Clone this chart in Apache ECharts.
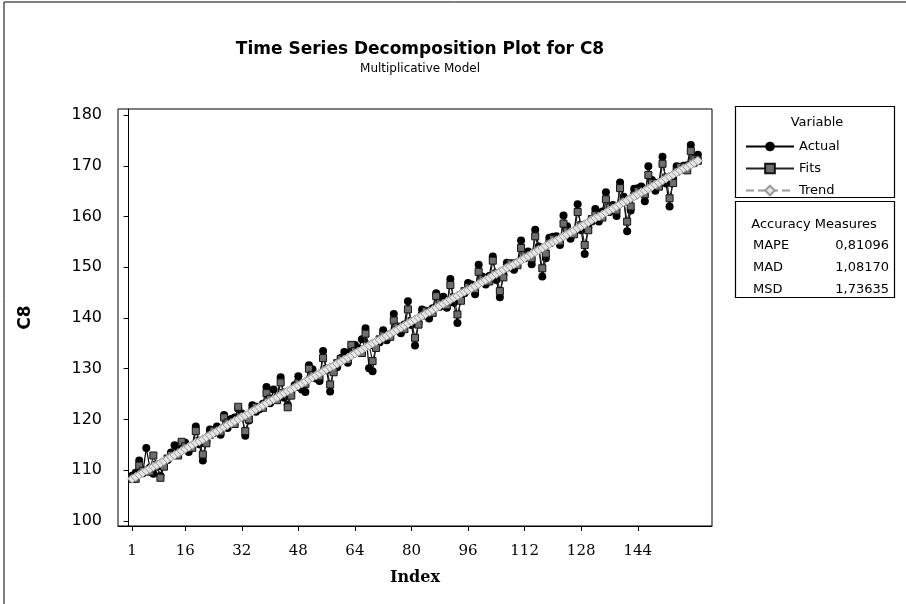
<!DOCTYPE html>
<html><head><meta charset="utf-8">
<script src="https://cdn.jsdelivr.net/npm/echarts/dist/echarts.min.js"></script>
<style>html,body{margin:0;padding:0;background:#fff}#c{width:906px;height:604px}</style>
</head><body><div id="c"></div>
<script>
const actual = [
108.9,109.5,111.9,109.4,114.4,110.5,109.3,110.7,108.9,111.6,112.0,113.5,
114.9,114.0,115.4,115.4,113.6,114.8,118.6,115.1,111.9,115.6,118.0,117.3,
118.6,117.0,120.9,118.3,120.1,120.4,122.1,121.2,116.8,119.8,122.8,121.5,
122.0,123.1,126.4,123.2,125.9,124.4,128.3,124.3,122.9,125.6,126.8,128.5,
125.9,125.4,130.7,129.9,128.1,127.6,133.5,129.7,125.5,130.1,130.3,132.1,
133.3,131.2,133.7,134.7,134.0,135.8,138.0,130.1,129.5,134.8,135.2,137.6,
135.6,136.8,140.8,137.6,137.0,138.7,143.3,138.6,134.6,139.0,141.7,141.0,
139.9,141.9,144.9,142.2,144.2,142.0,147.7,143.0,139.0,144.4,144.9,146.9,
146.6,144.7,150.5,148.2,146.6,148.3,152.1,147.5,144.1,148.6,150.9,150.1,
149.5,151.0,155.3,151.8,153.1,150.6,157.4,154.1,148.2,151.8,155.8,156.0,
156.1,154.4,160.2,158.1,155.6,157.0,162.4,157.3,152.6,157.9,159.0,161.5,
159.0,161.0,164.8,160.9,162.3,160.1,166.7,163.9,157.1,161.2,165.5,165.6,
165.9,163.0,169.9,167.2,165.1,166.7,171.8,166.5,162.0,167.5,169.9,169.2,
170.0,170.1,174.1,170.5,172.2];
const fits = [
108.3,108.3,110.9,109.9,109.9,109.7,112.9,111.1,108.5,110.7,112.3,113.0,
113.0,112.9,115.6,114.7,114.6,114.4,117.7,115.8,113.1,115.3,117.0,117.8,
117.7,117.6,120.4,119.4,119.3,119.1,122.5,120.6,117.7,120.0,121.7,122.5,
122.4,122.3,125.2,124.1,124.0,123.8,127.3,125.3,122.4,124.7,126.4,127.2,
127.1,127.0,130.0,128.8,128.7,128.5,132.1,130.0,126.9,129.3,131.1,131.9,
131.8,131.7,134.7,133.5,133.4,133.1,136.9,134.7,131.5,134.1,135.8,136.6,
136.5,136.3,139.5,138.3,138.1,137.8,141.7,139.4,136.1,138.7,140.5,141.4,
141.2,141.0,144.3,143.0,142.8,142.5,146.5,144.1,140.7,143.4,145.3,146.1,
145.9,145.7,149.1,147.7,147.5,147.2,151.3,148.8,145.3,148.0,150.0,150.8,
150.6,150.4,153.8,152.4,152.2,151.8,156.1,153.6,149.8,152.7,154.8,155.6,
155.3,155.1,158.6,157.1,156.9,156.5,160.9,158.3,154.4,157.3,159.5,160.3,
160.0,159.8,163.4,161.8,161.6,161.2,165.6,163.0,159.0,162.0,164.2,165.0,
164.8,164.4,168.2,166.6,166.3,165.9,170.4,167.7,163.6,166.6,168.9,169.8,
169.5,169.1,172.9,171.3,171.0];
const trend = [
108.3,108.7,109.1,109.5,109.9,110.3,110.7,111.0,111.4,111.8,112.2,112.6,
113.0,113.4,113.8,114.2,114.6,115.0,115.4,115.7,116.1,116.5,116.9,117.3,
117.7,118.1,118.5,118.9,119.3,119.7,120.1,120.5,120.8,121.2,121.6,122.0,
122.4,122.8,123.2,123.6,124.0,124.4,124.8,125.2,125.6,125.9,126.3,126.7,
127.1,127.5,127.9,128.3,128.7,129.1,129.5,129.9,130.3,130.6,131.0,131.4,
131.8,132.2,132.6,133.0,133.4,133.8,134.2,134.6,135.0,135.4,135.7,136.1,
136.5,136.9,137.3,137.7,138.1,138.5,138.9,139.3,139.7,140.1,140.4,140.8,
141.2,141.6,142.0,142.4,142.8,143.2,143.6,144.0,144.4,144.8,145.2,145.5,
145.9,146.3,146.7,147.1,147.5,147.9,148.3,148.7,149.1,149.5,149.9,150.2,
150.6,151.0,151.4,151.8,152.2,152.6,153.0,153.4,153.8,154.2,154.6,155.0,
155.3,155.7,156.1,156.5,156.9,157.3,157.7,158.1,158.5,158.9,159.3,159.7,
160.0,160.4,160.8,161.2,161.6,162.0,162.4,162.8,163.2,163.6,164.0,164.4,
164.8,165.1,165.5,165.9,166.3,166.7,167.1,167.5,167.9,168.3,168.7,169.1,
169.5,169.8,170.2,170.6,171.0];
const xTicks = [1,16,32,48,64,80,96,112,128,144];
const yTicks = [100,110,120,130,140,150,160,170,180];
const seriesNames = ['Actual','Fits','Trend'];
const accuracyNames = ['MAPE','MAD','MSD'];
const accuracyValues = ['0,81096','1,08170','1,73635'];

const FONT = 'DejaVu Sans';
const pts = arr => arr.map((v, i) => [i + 1, v]);

const chart = echarts.init(document.getElementById('c'), null, {renderer: 'canvas'});

const graphics = [
  {type:'rect', shape:{x:4, y:2, width:1000, height:1000}, style:{fill:'none', stroke:'#000', lineWidth:1}, silent:true},
  {type:'rect', shape:{x:735.5, y:106.5, width:159, height:91}, style:{fill:'none', stroke:'#000', lineWidth:1.2}},
  {type:'rect', shape:{x:735.5, y:201.5, width:159, height:96}, style:{fill:'none', stroke:'#000', lineWidth:1.2}},
  {type:'text', x:817, y:123, style:{text:'Variable', font:'13px ' + FONT, fill:'#000', textAlign:'center', textVerticalAlign:'middle'}},
  {type:'text', x:814, y:225, style:{text:'Accuracy Measures', font:'13px ' + FONT, fill:'#000', textAlign:'center', textVerticalAlign:'middle'}}
];
accuracyNames.forEach((n, i) => {
  const y = 246 + i * 22;
  graphics.push({type:'text', x:753, y:y, style:{text:n, font:'13px ' + FONT, fill:'#000', textAlign:'left', textVerticalAlign:'middle'}});
  graphics.push({type:'text', x:889, y:y, style:{text:accuracyValues[i], font:'13px ' + FONT, fill:'#000', textAlign:'right', textVerticalAlign:'middle'}});
});

chart.setOption({
  animation: false,
  backgroundColor: '#fff',
  title: {
    text: 'Time Series Decomposition Plot for C8',
    subtext: 'Multiplicative Model',
    left: 415, top: 36, textAlign: 'center', itemGap: 5,
    textStyle: {fontFamily: FONT, fontSize: 17, fontWeight: 'bold', color: '#000'},
    subtextStyle: {fontFamily: FONT, fontSize: 12, color: '#000'}
  },
  legend: {
    data: seriesNames, orient: 'vertical', left: 740, top: 135,
    itemWidth: 48, itemHeight: 12, itemGap: 9,
    textStyle: {fontFamily: FONT, fontSize: 13, color: '#000'}
  },
  grid: {left: 118, right: 194, top: 109, bottom: 78, show: true, borderColor: '#000', borderWidth: 1, containLabel: false},
  xAxis: {
    type: 'value', min: -3, max: 165,
    name: 'Index', nameLocation: 'middle', nameGap: 44,
    nameTextStyle: {fontFamily: 'DejaVu Serif', fontSize: 16, fontWeight: 'bold', color: '#000'},
    axisLine: {lineStyle: {color: '#000'}},
    axisTick: {show: true, length: 5, inside: false, customValues: xTicks, lineStyle: {color: '#000'}},
    axisLabel: {customValues: xTicks, fontFamily: 'DejaVu Serif', fontSize: 15, color: '#000', margin: 18},
    splitLine: {show: false}
  },
  yAxis: {
    type: 'value', min: 99, max: 181.2,
    name: 'C8', nameLocation: 'middle', nameGap: 84, nameRotate: 90,
    nameTextStyle: {fontFamily: FONT, fontSize: 17, fontWeight: 'bold', color: '#000'},
    axisLine: {show: true, lineStyle: {color: '#000'}},
    axisTick: {show: true, length: 5, customValues: yTicks, lineStyle: {color: '#000'}},
    axisLabel: {customValues: yTicks, fontFamily: FONT, fontSize: 16, color: '#000', margin: 16},
    splitLine: {show: false}
  },
  series: [
    {name: 'Actual', type: 'line', data: pts(actual), symbol: 'circle', symbolSize: 8,
     lineStyle: {color: '#000', width: 1.2}, itemStyle: {color: '#000'}, z: 2},
    {name: 'Fits', type: 'line', data: pts(fits), symbol: 'rect', symbolSize: 7,
     lineStyle: {color: '#222', width: 1.2}, itemStyle: {color: '#6e6e6e', borderColor: '#111', borderWidth: 1}, z: 3},
    {name: 'Trend', type: 'line', data: pts(trend), symbol: 'diamond', symbolSize: 9,
     lineStyle: {color: '#999', width: 3, type: 'dashed'}, itemStyle: {color: '#e6e6e6', borderColor: '#999', borderWidth: 1}, z: 4}
  ],
  graphic: graphics
});
</script>
</body></html>
